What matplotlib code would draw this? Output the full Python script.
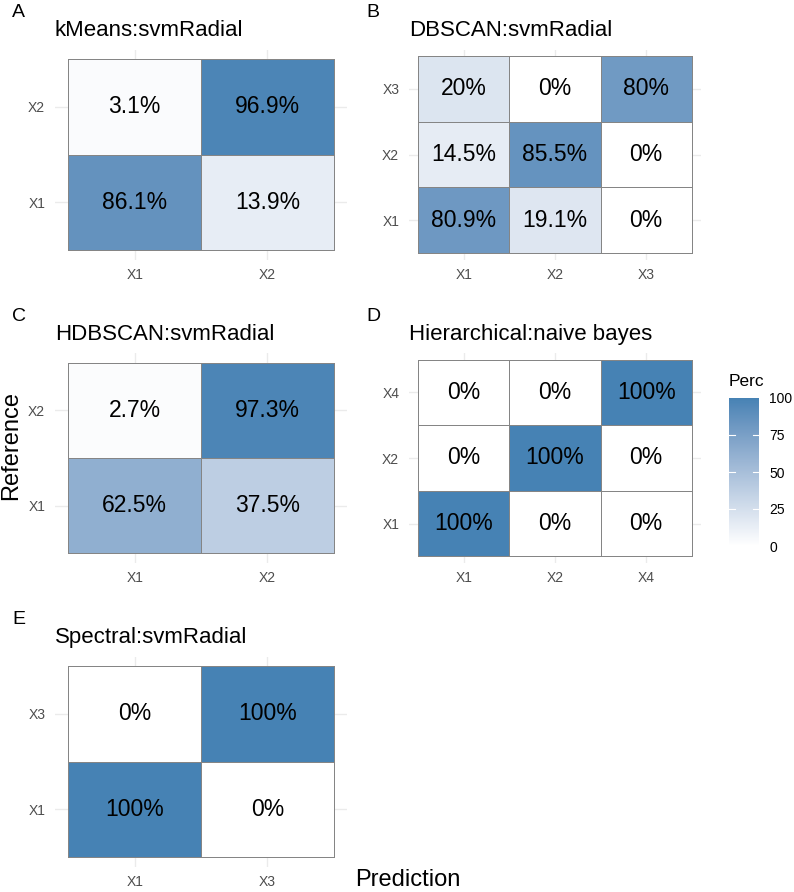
import numpy as np
import matplotlib
matplotlib.use("Agg")
import matplotlib.pyplot as plt
from matplotlib.colors import ListedColormap, Normalize
from matplotlib.cm import ScalarMappable

plt.rcParams['font.family'] = ['Liberation Sans', 'DejaVu Sans']

# ---------------- data ----------------
titles = ["kMeans:svmRadial", "DBSCAN:svmRadial", "HDBSCAN:svmRadial",
          "Hierarchical:naive bayes", "Spectral:svmRadial"]
letters = ["A", "B", "C", "D", "E"]

a_classes = ["X1", "X2"]
a_perc = [[86.1, 13.9],      # Reference X1 : Prediction X1, X2
          [3.1, 96.9]]       # Reference X2

b_classes = ["X1", "X2", "X3"]
b_perc = [[80.9, 19.1, 0],
          [14.5, 85.5, 0],
          [20, 0, 80]]

c_classes = ["X1", "X2"]
c_perc = [[62.5, 37.5],
          [2.7, 97.3]]

d_classes = ["X1", "X2", "X4"]
d_perc = [[100, 0, 0],
          [0, 100, 0],
          [0, 0, 100]]

e_classes = ["X1", "X3"]
e_perc = [[100, 0],
          [0, 100]]

panels = [(a_classes, a_perc), (b_classes, b_perc), (c_classes, c_perc),
          (d_classes, d_perc), (e_classes, e_perc)]

legend_ticks = [0, 25, 50, 75, 100]

# ---------------- colour scale (white -> steelblue, Lab interpolation) ----------------
def _srgb_to_lin(c):
    c = np.asarray(c, float)
    return np.where(c <= 0.04045, c / 12.92, ((c + 0.055) / 1.055) ** 2.4)

def _lin_to_srgb(c):
    c = np.clip(c, 0, 1)
    return np.where(c <= 0.0031308, 12.92 * c, 1.055 * c ** (1 / 2.4) - 0.055)

M = np.array([[0.4124, 0.3576, 0.1805],
              [0.2126, 0.7152, 0.0722],
              [0.0193, 0.1192, 0.9505]])
WHITE = M @ np.ones(3)

def _f(t):
    d = 6 / 29
    return np.where(t > d ** 3, np.cbrt(t), t / (3 * d * d) + 4 / 29)

def _finv(t):
    d = 6 / 29
    return np.where(t > d, t ** 3, 3 * d * d * (t - 4 / 29))

def rgb2lab(rgb):
    xyz = M @ _srgb_to_lin(rgb) / WHITE
    fx, fy, fz = _f(xyz)
    return np.array([116 * fy - 16, 500 * (fx - fy), 200 * (fy - fz)])

def lab2rgb(lab):
    L, a, b = lab
    fy = (L + 16) / 116
    fx = fy + a / 500
    fz = fy - b / 200
    xyz = np.array([_finv(fx), _finv(fy), _finv(fz)]) * WHITE
    return _lin_to_srgb(np.linalg.solve(M, xyz))

lo = rgb2lab(np.array([1.0, 1.0, 1.0]))
hi = rgb2lab(np.array([70, 130, 180]) / 255.0)
cols = [lab2rgb(lo + (hi - lo) * t) for t in np.linspace(0, 1, 256)]
cmap = ListedColormap(cols)
norm = Normalize(0, 100)

# ---------------- layout ----------------
W, H = 794, 892
fig = plt.figure(figsize=(W / 100, H / 100), dpi=100)

def add_ax(x0, y0, w, h):
    return fig.add_axes([x0 / W, 1 - (y0 + h) / H, w / W, h / H])

row_tops = [49.5, 353, 656.5]
col_lefts = [55, 409]
aw, ah = 292, 210
slots = [(0, 0), (1, 0), (0, 1), (1, 1), (0, 2)]

for i, ((classes, perc), (ci, ri)) in enumerate(zip(panels, slots)):
    ax = add_ax(col_lefts[ci], row_tops[ri], aw, ah)
    n = len(classes)
    Z = np.array(perc, float)
    edges = np.arange(n + 1) - 0.5
    ax.pcolormesh(edges, edges, Z, cmap=cmap, norm=norm,
                  edgecolors='#858585', linewidth=0.7, zorder=2)
    for r in range(n):
        for c in range(n):
            ax.text(c, r, f"{Z[r, c]:g}%", ha='center', va='center',
                    fontsize=16.5, color='black', zorder=3)
    ax.set_xlim(-0.6, n - 0.4)
    ax.set_ylim(-0.6, n - 0.4)
    ax.set_xticks(range(n))
    ax.set_yticks(range(n))
    ax.set_xticklabels(classes)
    ax.set_yticklabels(classes)
    ax.tick_params(length=0, labelsize=10, labelcolor='#4d4d4d')
    ax.tick_params(axis='x', pad=6)
    ax.tick_params(axis='y', pad=7)
    ax.grid(True, color='#ebebeb', linewidth=1.0, zorder=0)
    ax.set_axisbelow(True)
    for s in ax.spines.values():
        s.set_visible(False)
    ax.set_title(titles[i], loc='left', fontsize=16, pad=9.5, color='black')
    fig.text((col_lefts[ci] - 43) / W,
             1 - (row_tops[ri] - 32.5) / H, letters[i],
             fontsize=14, ha='left', va='baseline')

# axis titles
fig.text(11 / W, 1 - 446 / H, "Reference", rotation=90, ha='center', va='center',
         fontsize=17)
fig.text(408 / W, 1 - 880 / H, "Prediction", ha='center', va='center', fontsize=17)

# legend colourbar
cax = add_ax(729, 398, 30, 148)
cb = fig.colorbar(ScalarMappable(norm=norm, cmap=cmap), cax=cax, ticks=legend_ticks)
cb.outline.set_visible(False)
cax.tick_params(length=0, labelsize=10, pad=7.5, labelcolor='black')
for v in legend_ticks[1:-1]:
    cax.plot([0, 0.2], [v, v], color='white', lw=0.8, transform=cax.get_yaxis_transform())
    cax.plot([0.8, 1], [v, v], color='white', lw=0.8, transform=cax.get_yaxis_transform())
fig.text(729 / W, 1 - 386 / H, "Perc", fontsize=12.5, ha='left', va='baseline')

fig.savefig("out.png", dpi=100)
